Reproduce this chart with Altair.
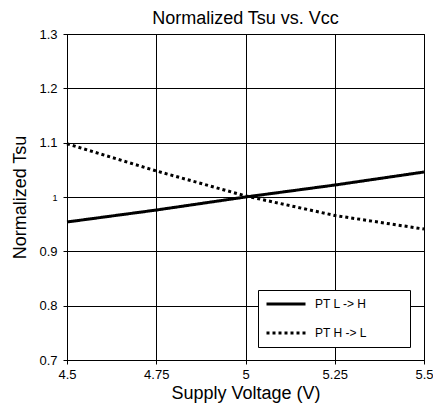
import altair as alt
import pandas as pd

voltage = [4.5, 4.75, 5.0, 5.25, 5.5]
pt_l_to_h = [0.954, 0.976, 1.000, 1.022, 1.046]
pt_h_to_l = [1.098, 1.048, 1.002, 0.966, 0.941]
series_names = ["PT L -> H", "PT H -> L"]
y_ticks = [0.7, 0.8, 0.9, 1.0, 1.1, 1.2, 1.3]

rows = []
for name, vals in zip(series_names, [pt_l_to_h, pt_h_to_l]):
    for v, t in zip(voltage, vals):
        rows.append({"Voltage": v, "Tsu": t, "Series": name})
df = pd.DataFrame(rows)

FONT = "Liberation Sans"

chart = alt.Chart(df).mark_line(color="black", strokeWidth=3, strokeCap="butt").encode(
    x=alt.X(
        "Voltage:Q",
        scale=alt.Scale(domain=[4.5, 5.5], nice=False, zero=False),
        axis=alt.Axis(
            values=voltage, format=".2~f", title="Supply Voltage (V)",
            titleFont=FONT, titleFontSize=18, titleFontWeight="normal", titleColor="black",
            titlePadding=3, labelFont=FONT, labelFontSize=13, labelColor="black",
            labelPadding=4, tickSize=4, tickColor="black", domainColor="black",
            gridColor="black", gridOpacity=1, gridWidth=1, labelFlush=False,
        ),
    ),
    y=alt.Y(
        "Tsu:Q",
        scale=alt.Scale(domain=[0.7, 1.3], nice=False, zero=False),
        axis=alt.Axis(
            values=y_ticks, format=".1~f", title="Normalized Tsu",
            titleFont=FONT, titleFontSize=18, titleFontWeight="normal", titleColor="black",
            titlePadding=9, labelFont=FONT,
            labelFontSize={"condition": {"test": "datum.value == 1", "value": 9}, "value": 13},
            labelColor="black", labelPadding=6, tickSize=4, tickColor="black",
            domainColor="black", gridColor="black", gridOpacity=1, gridWidth=1,
            labelFlush=False,
        ),
    ),
    strokeDash=alt.StrokeDash(
        "Series:N",
        scale=alt.Scale(domain=series_names, range=[[1, 0], [3, 3]]),
        legend=alt.Legend(
            title=None, orient="none", legendX=191, legendY=256,
            strokeColor="black", fillColor="white", padding=7,
            symbolType="stroke", symbolSize=1521, symbolStrokeWidth=3,
            symbolStrokeColor="black", labelFont=FONT, labelFontSize=12,
            labelColor="black", labelOffset=8, clipHeight=14, rowPadding=15,
            labelExpr="datum.label + '\u2800\u2800\u2800\u2800'",
        ),
    ),
).properties(
    width=357,
    height=326,
    autosize="none",
    padding={"left": 59, "top": 26, "right": 9, "bottom": 44},
    title=alt.TitleParams(
        "Normalized Tsu vs. Vcc", font=FONT, fontSize=18, fontWeight="normal",
        color="black", offset=0,
    ),
).configure_view(stroke="black", strokeWidth=1)

chart.save("out.html", embed_options={"renderer": "svg", "actions": False})
